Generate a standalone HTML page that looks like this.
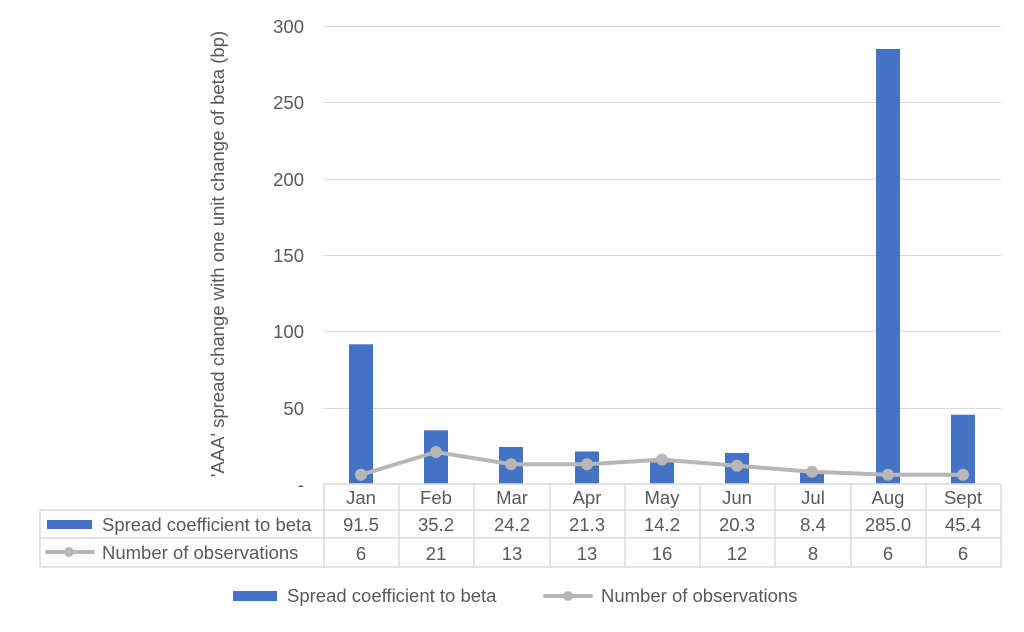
<!DOCTYPE html>
<html><head><style>body{margin:0;background:#fff}</style></head><body>
<svg width="1024" height="627" viewBox="0 0 1024 627" xmlns="http://www.w3.org/2000/svg" font-family="Liberation Sans, Arial, sans-serif" fill="#595959">
<g stroke="#d9d9d9" stroke-width="1">
<line x1="324" y1="26.5" x2="1001" y2="26.5"/>
<line x1="324" y1="102.5" x2="1001" y2="102.5"/>
<line x1="324" y1="179.5" x2="1001" y2="179.5"/>
<line x1="324" y1="255.5" x2="1001" y2="255.5"/>
<line x1="324" y1="331.5" x2="1001" y2="331.5"/>
<line x1="324" y1="408.5" x2="1001" y2="408.5"/>
</g>
<g font-size="18.5" text-anchor="end">
<text x="304" y="33">300</text><text x="304" y="109">250</text><text x="304" y="186">200</text>
<text x="304" y="262">150</text><text x="304" y="338">100</text><text x="304" y="415">50</text>
<text x="304" y="491">-</text>
</g>
<text transform="translate(224,254) rotate(-90)" font-size="18.5" text-anchor="middle">'AAA' spread change with one unit change of beta (bp)</text>
<g fill="#4472c4">
<rect x="349" y="344.3" width="24" height="139.7"/>
<rect x="424" y="430.3" width="24" height="53.7"/>
<rect x="499" y="447" width="24" height="37"/>
<rect x="575" y="451.5" width="24" height="32.5"/>
<rect x="650" y="462.3" width="24" height="21.7"/>
<rect x="725" y="453" width="24" height="31"/>
<rect x="800" y="471.2" width="24" height="12.8"/>
<rect x="876" y="49" width="24" height="435"/>
<rect x="951" y="414.7" width="24" height="69.3"/>
</g>
<polyline fill="none" stroke="#b7b7b7" stroke-width="4" stroke-linejoin="round" points="361,474.8 436,452 511,464.2 587,464.2 662,459.6 737,465.7 812,471.8 888,474.8 963,474.8"/>
<g fill="#b7b7b7">
<circle cx="361" cy="474.8" r="6"/><circle cx="436" cy="452" r="6"/><circle cx="511" cy="464.2" r="6"/>
<circle cx="587" cy="464.2" r="6"/><circle cx="662" cy="459.6" r="6"/><circle cx="737" cy="465.7" r="6"/>
<circle cx="812" cy="471.8" r="6"/><circle cx="888" cy="474.8" r="6"/><circle cx="963" cy="474.8" r="6"/>
</g>
<g stroke="#d9d9d9" stroke-width="1.5" fill="none">
<line x1="324" y1="484" x2="1001" y2="484"/>
<line x1="40" y1="510" x2="1001" y2="510"/>
<line x1="40" y1="538" x2="1001" y2="538"/>
<line x1="40" y1="567" x2="1001" y2="567"/>
<line x1="40" y1="510" x2="40" y2="567"/>
<line x1="324" y1="484" x2="324" y2="567"/>
<line x1="399" y1="484" x2="399" y2="567"/>
<line x1="474" y1="484" x2="474" y2="567"/>
<line x1="550" y1="484" x2="550" y2="567"/>
<line x1="625" y1="484" x2="625" y2="567"/>
<line x1="700" y1="484" x2="700" y2="567"/>
<line x1="775" y1="484" x2="775" y2="567"/>
<line x1="851" y1="484" x2="851" y2="567"/>
<line x1="926" y1="484" x2="926" y2="567"/>
<line x1="1001" y1="484" x2="1001" y2="567"/>
</g>
<g font-size="18.5" text-anchor="middle">
<text x="361" y="504">Jan</text><text x="436" y="504">Feb</text><text x="512" y="504">Mar</text>
<text x="587" y="504">Apr</text><text x="662" y="504">May</text><text x="737" y="504">Jun</text>
<text x="813" y="504">Jul</text><text x="888" y="504">Aug</text><text x="963" y="504">Sept</text>
<text x="361" y="531">91.5</text><text x="436" y="531">35.2</text><text x="512" y="531">24.2</text>
<text x="587" y="531">21.3</text><text x="662" y="531">14.2</text><text x="737" y="531">20.3</text>
<text x="813" y="531">8.4</text><text x="888" y="531">285.0</text><text x="963" y="531">45.4</text>
<text x="361" y="560">6</text><text x="436" y="560">21</text><text x="512" y="560">13</text>
<text x="587" y="560">13</text><text x="662" y="560">16</text><text x="737" y="560">12</text>
<text x="813" y="560">8</text><text x="888" y="560">6</text><text x="963" y="560">6</text>
</g>
<rect x="47" y="520" width="45" height="9" fill="#4472c4"/>
<text x="102" y="531" font-size="18.5">Spread coefficient to beta</text>
<line x1="47" y1="552" x2="93" y2="552" stroke="#b7b7b7" stroke-width="4" stroke-linecap="round"/>
<circle cx="69" cy="552" r="5" fill="#b7b7b7"/>
<text x="102" y="559" font-size="18.5">Number of observations</text>
<rect x="233" y="591" width="44" height="10" fill="#4472c4"/>
<text x="287" y="602" font-size="18.5">Spread coefficient to beta</text>
<line x1="545" y1="596" x2="591" y2="596" stroke="#b7b7b7" stroke-width="4" stroke-linecap="round"/>
<circle cx="568" cy="596" r="5" fill="#b7b7b7"/>
<text x="601" y="602" font-size="18.5">Number of observations</text>
</svg>
</body></html>
